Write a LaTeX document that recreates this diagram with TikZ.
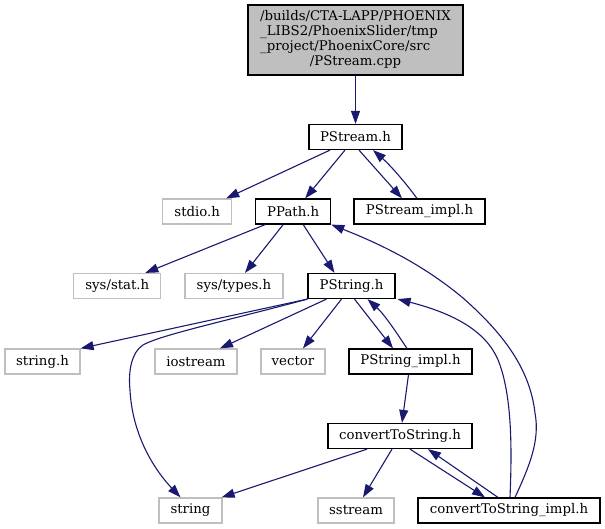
\documentclass[tikz,border=0pt]{standalone}
\usepackage{fontspec}
\setmainfont{DejaVu Serif}
\usetikzlibrary{arrows.meta,calc}
\definecolor{edgec}{HTML}{191970}
\definecolor{extc}{HTML}{BFBFBF}
\begin{document}
\begin{tikzpicture}[x=1pt,y=-1pt,
  every node/.style={font=\fontsize{13.3}{15}\selectfont},
  box/.style={draw=black, line width=1.2pt, fill=white, minimum height=25pt, inner sep=0pt},
  ext/.style={draw=extc, line width=1.2pt, fill=white, minimum height=25pt, inner sep=0pt},
  edge/.style={draw=edgec, line width=1.1pt, -{Triangle[length=13pt,width=9pt]}},
]
\useasboundingbox (0,0) rectangle (605,529);

\node[box, fill=extc, minimum width=215pt, minimum height=70pt] (top) at (355.5,40)
  {\begin{tabular}{@{}l@{}}/builds/CTA-LAPP/PHOENIX\\\_LIBS2/PhoenixSlider/tmp\\\_project/PhoenixCore/src\\\multicolumn{1}{@{}c@{}}{/PStream.cpp}\end{tabular}};
\node[box, minimum width=93pt] (pstream) at (355.5,137) {PStream.h};
\node[ext, minimum width=69pt] (stdio) at (197.2,211.5) {stdio.h};
\node[box, minimum width=75pt] (ppath) at (293.2,211.5) {PPath.h};
\node[box, minimum width=131pt] (pstreamimpl) at (419.5,211.5) {PStream\_impl.h};
\node[ext, minimum width=87pt] (sysstat) at (117.3,286) {sys/stat.h};
\node[ext, minimum width=98pt] (systypes) at (234,286) {sys/types.h};
\node[box, minimum width=87pt] (pstring) at (351.5,286) {PString.h};
\node[ext, minimum width=75pt] (stringh) at (42.5,361.5) {string.h};
\node[ext, minimum width=82pt] (iostream) at (196,361.5) {iostream};
\node[ext, minimum width=64pt] (vector) at (293,361.5) {vector};
\node[box, minimum width=123pt] (pstringimpl) at (410.5,361.5) {PString\_impl.h};
\node[box, minimum width=144pt] (cts) at (400,436) {convertToString.h};
\node[ext, minimum width=63pt] (string) at (190.5,510.5) {string};
\node[ext, minimum width=76pt] (sstream) at (356,510.5) {sstream};
\node[box, minimum width=182pt] (ctsimpl) at (509,510.5) {convertToString\_impl.h};

\draw[edge] (top) -- (pstream);
\draw[edge] ([xshift=-25.5pt]pstream.south) -- ([xshift=29pt]stdio.north);
\draw[edge] ([xshift=-10.5pt]pstream.south) -- ([xshift=12pt]ppath.north);
\draw[edge] ([xshift=3.5pt]pstream.south) -- ([xshift=-17.5pt]pstreamimpl.north);
\draw[edge] ([xshift=-2.5pt]pstreamimpl.north) .. controls (405,182) and (390,165) .. ([xshift=17.5pt]pstream.south);
\draw[edge] ([xshift=-28pt]ppath.south) -- ([xshift=28pt]sysstat.north);
\draw[edge] ([xshift=-10pt]ppath.south) -- ([xshift=11pt]systypes.north);
\draw[edge] ([xshift=10pt]ppath.south) -- ([xshift=-17pt]pstring.north);
\draw[edge] ([xshift=6pt]ctsimpl.north) .. controls (530,465) and (540,440) .. (535,413)
  .. controls (530,370) and (505,335) .. (463,298)
  .. controls (420,262) and (375,242) .. (ppath.south east);
\draw[edge] ([xshift=1pt]ctsimpl.north) .. controls (512,450) and (512,400) .. (500,365)
  .. controls (490,335) and (460,315) .. ([xshift=2pt]pstring.south east);
\draw[edge] (pstring.south west) -- (stringh.north east);
\draw[edge] (pstring.south west) .. controls (230,320) and (160,335) .. (143,345)
  .. controls (132,352) and (128,370) .. (130,390)
  .. controls (132,430) and (150,465) .. ([xshift=-10pt]string.north);
\draw[edge] ([xshift=-25pt]pstring.south) -- ([xshift=24pt]iostream.north);
\draw[edge] ([xshift=-10pt]pstring.south) -- ([xshift=10pt]vector.north);
\draw[edge] ([xshift=3pt]pstring.south) -- ([xshift=-17.5pt]pstringimpl.north);
\draw[edge] ([xshift=-3.5pt]pstringimpl.north) .. controls (398,335) and (385,315) .. ([xshift=16pt]pstring.south);
\draw[edge] ([xshift=-2pt]pstringimpl.south) -- ([xshift=2pt]cts.north);
\draw[edge] ([xshift=-33pt]cts.south) -- ([xshift=-1pt]string.north east);
\draw[edge] ([xshift=-8pt]cts.south) -- ([xshift=7pt]sstream.north);
\draw[edge] ([xshift=10pt]cts.south) -- ([xshift=-24pt]ctsimpl.north);
\draw[edge] ([xshift=-11pt]ctsimpl.north) -- ([xshift=28pt]cts.south);
\end{tikzpicture}
\end{document}
